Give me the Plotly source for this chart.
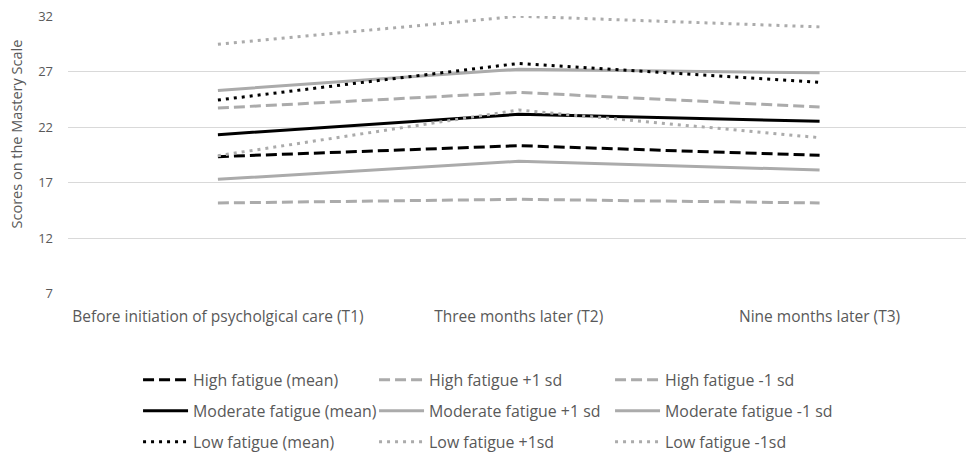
import plotly.graph_objects as go

timepoints = ["Before initiation of psycholgical care (T1)", "Three months later (T2)", "Nine months later (T3)"]

series_names = [
    "High fatigue (mean)", "High fatigue +1 sd", "High fatigue -1 sd",
    "Moderate fatigue (mean)", "Moderate fatigue +1 sd", "Moderate fatigue -1 sd",
    "Low fatigue (mean)", "Low fatigue +1sd", "Low fatigue -1sd",
]

high_mean = [19.35, 20.34, 19.47]
high_plus = [23.73, 25.14, 23.82]
high_minus = [15.18, 15.51, 15.18]
moderate_mean = [21.33, 23.16, 22.53]
moderate_plus = [25.32, 27.23, 26.9]
moderate_minus = [17.31, 18.93, 18.15]
low_mean = [24.45, 27.75, 26.04]
low_plus = [29.48, 32.0, 31.04]
low_minus = [19.44, 23.55, 21.06]

series_values = [high_mean, high_plus, high_minus,
                 moderate_mean, moderate_plus, moderate_minus,
                 low_mean, low_plus, low_minus]

y_ticks = [7, 12, 17, 22, 27, 32]
y_title = "Scores on the Mastery Scale"

BLACK = "#000000"
GRAY = "#ABABAB"
styles = [
    (BLACK, "11px,5px"), (GRAY, "11px,5px"), (GRAY, "11px,5px"),
    (BLACK, "solid"), (GRAY, "solid"), (GRAY, "solid"),
    (BLACK, "3px,5px"), (GRAY, "3px,5px"), (GRAY, "3px,5px"),
]
legend_ids = ["legend", "legend", "legend", "legend2", "legend2", "legend2", "legend3", "legend3", "legend3"]

FONT = "Open Sans"
TXT = "#595959"

fig = go.Figure()
x_idx = list(range(len(timepoints)))
for name, vals, (col, dash), lg in zip(series_names, series_values, styles, legend_ids):
    fig.add_trace(go.Scatter(
        x=x_idx, y=vals, mode="lines", name=name,
        line=dict(color=col, width=3, dash=dash),
        legend=lg,
    ))

leg_common = dict(orientation="h", x=0.078, xanchor="left", yanchor="middle", yref="container",
                  entrywidth=176, entrywidthmode="pixels", itemwidth=45,
                  font=dict(family=FONT, size=15.9, color=TXT),
                  bgcolor="rgba(0,0,0,0)", itemclick=False)

fig.update_layout(
    width=966, height=455,
    margin=dict(l=68, r=0, t=16, b=161),
    paper_bgcolor="white", plot_bgcolor="white",
    font=dict(family=FONT, size=14, color=TXT),
    xaxis=dict(
        tickmode="array", tickvals=x_idx, ticktext=timepoints,
        range=[-0.4983, 2.4867], showgrid=False, zeroline=False, showline=False,
        ticks="", ticklabelstandoff=11, tickfont=dict(size=15.5, color=TXT),
    ),
    yaxis=dict(
        range=[6.98, 32.02], tickmode="array", tickvals=y_ticks,
        showgrid=True, gridcolor="#D9D9D9", gridwidth=1, zeroline=False, showline=False,
        ticks="", ticklabelstandoff=14, tickfont=dict(size=13, color=TXT),
    ),
    annotations=[dict(
        text=y_title, textangle=-90, xref="paper", yref="paper",
        x=-0.0579, y=0.574, xanchor="center", yanchor="middle", showarrow=False,
        font=dict(family=FONT, size=14.5, color=TXT),
    )],
    legend=dict(**leg_common, y=0.1648),
    legend2=dict(**leg_common, y=0.0967),
    legend3=dict(**leg_common, y=0.0286),
    showlegend=True,
)

# remove the browser's default 8px page margin so the figure fills the window exactly
fig.write_html("out.html", config={"displayModeBar": False},
               post_script="document.body.style.margin='0px';")
